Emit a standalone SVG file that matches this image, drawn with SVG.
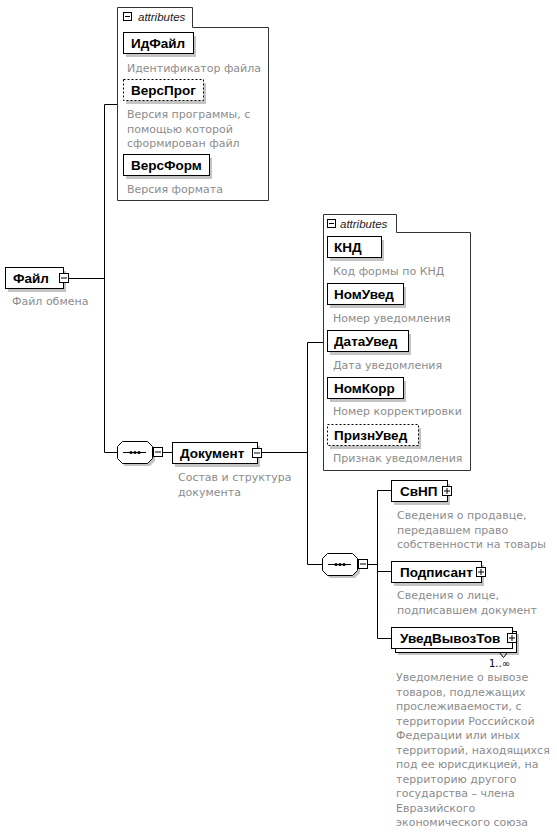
<svg xmlns="http://www.w3.org/2000/svg" width="557" height="835" viewBox="0 0 557 835">
<defs>
<style>
.bg{fill:#fff}
.box{fill:#fff;stroke:#000;stroke-width:1}
.dbox{fill:#fff;stroke:#000;stroke-width:1;stroke-dasharray:2,2}
.sh{fill:#c4c4c4}
.cont{fill:#fff;stroke:#333;stroke-width:1}
.name{font-family:"Liberation Sans",Arial,sans-serif;font-weight:bold;font-size:13.5px;fill:#000}
.desc{font-family:"DejaVu Sans","Liberation Sans",sans-serif;font-size:11px;fill:#8c8c8c}
.attr{font-family:"Liberation Sans",Arial,sans-serif;font-style:italic;font-size:11.5px;fill:#222}
.mult{font-family:"DejaVu Sans","Liberation Sans",sans-serif;font-size:10px;fill:#000}
.ln{fill:none;stroke:#000;stroke-width:1}
.pm{fill:#fff;stroke:#000;stroke-width:1}
</style>
</defs>
<rect class="bg" x="0" y="0" width="557" height="835"/>

<g id="connectors">
<path class="ln" d="M68.5,278.5 H104.5 M104.5,104.5 V452.5 M104.5,104.5 H117 M104.5,452.5 H117 M162,452.5 H172 M261,452.5 H307.5 M307.5,342.5 V564.5 M307.5,342.5 H323 M307.5,564.5 H322 M367,564.5 H377.5 M377.5,490.5 V638.5 M377.5,490.5 H391 M377.5,571.5 H391 M377.5,638.5 H391"/>
</g>

<g id="attributes1">
<path class="cont" d="M117.5,7.5 H192.5 V27.5 H268.5 V200.5 H117.5 Z"/>
<rect class="pm" x="123.5" y="12.5" width="8" height="8"/>
<path class="ln" d="M125,16.5 H130"/>
<text class="attr" x="138" y="20.5">attributes</text>
</g>

<g id="ИдФайл">
<rect class="sh" x="126" y="36" width="70" height="21"/>
<rect class="box" x="123.5" y="32.5" width="70" height="21"/>
<text class="name" x="131" y="47.5">ИдФайл</text>
<text class="desc" x="127" y="72">Идентификатор файла</text>
</g>

<g id="ВерсПрог">
<rect class="sh" x="126" y="83" width="80" height="21"/>
<rect class="dbox" x="123.5" y="79.5" width="80" height="21"/>
<text class="name" x="131" y="94.5">ВерсПрог</text>
<text class="desc" x="127" y="118">Версия программы, с</text>
<text class="desc" x="127" y="132.5">помощью которой</text>
<text class="desc" x="127" y="147">сформирован файл</text>
</g>

<g id="ВерсФорм">
<rect class="sh" x="126" y="158" width="86" height="21"/>
<rect class="box" x="123.5" y="154.5" width="86" height="21"/>
<text class="name" x="131" y="169.5">ВерсФорм</text>
<text class="desc" x="127" y="193">Версия формата</text>
</g>

<g id="Файл">
<rect class="sh" x="8" y="271" width="58" height="21"/>
<rect class="box" x="5.5" y="267.5" width="58" height="21"/>
<text class="name" x="13" y="282.5">Файл</text>
<rect class="pm" x="59.5" y="273.5" width="9" height="9"/>
<path class="ln" d="M61,278 H67"/>
<text class="desc" x="12" y="305">Файл обмена</text>
</g>

<g id="seq1">
<path fill="#c4c4c4" d="M125,444 H150 L155,449 V461 L150,466 H125 L120,461 V449 Z"/>
<path class="box" d="M122.5,441.5 H147.5 L152.5,446.5 V458.5 L147.5,463.5 H122.5 L117.5,458.5 V446.5 Z"/>
<path class="ln" d="M123,452.5 H146"/>
<circle cx="131" cy="452.5" r="1.6" fill="#000"/>
<circle cx="135" cy="452.5" r="1.6" fill="#000"/>
<circle cx="139" cy="452.5" r="1.6" fill="#000"/>
<rect class="pm" x="153.5" y="447.5" width="9" height="9"/>
<path class="ln" d="M155,452 H161"/>
</g>

<g id="Документ">
<rect class="sh" x="175" y="446" width="85" height="21"/>
<rect class="box" x="172.5" y="442.5" width="85" height="21"/>
<text class="name" x="180" y="457.5">Документ</text>
<rect class="pm" x="252.5" y="448.5" width="9" height="9"/>
<path class="ln" d="M254,453 H260"/>
<text class="desc" x="178" y="481">Состав и структура</text>
<text class="desc" x="178" y="495.5">документа</text>
</g>

<g id="attributes2">
<path class="cont" d="M323.5,214.5 H396.5 V232.5 H470.5 V470.5 H323.5 Z"/>
<rect class="pm" x="327.5" y="219.5" width="8" height="8"/>
<path class="ln" d="M329,223.5 H334"/>
<text class="attr" x="340" y="227.5">attributes</text>
</g>

<g id="КНД">
<rect class="sh" x="330" y="240" width="54" height="21"/>
<rect class="box" x="327.5" y="236.5" width="54" height="21"/>
<text class="name" x="334" y="251.5">КНД</text>
<text class="desc" x="333" y="275">Код формы по КНД</text>
</g>

<g id="НомУвед">
<rect class="sh" x="330" y="287" width="76" height="21"/>
<rect class="box" x="327.5" y="283.5" width="76" height="21"/>
<text class="name" x="334" y="298.5">НомУвед</text>
<text class="desc" x="333" y="322">Номер уведомления</text>
</g>

<g id="ДатаУвед">
<rect class="sh" x="330" y="334" width="81" height="21"/>
<rect class="box" x="327.5" y="330.5" width="81" height="21"/>
<text class="name" x="334" y="345.5">ДатаУвед</text>
<text class="desc" x="333" y="369">Дата уведомления</text>
</g>

<g id="НомКорр">
<rect class="sh" x="330" y="381" width="76" height="21"/>
<rect class="box" x="327.5" y="377.5" width="76" height="21"/>
<text class="name" x="334" y="392.5">НомКорр</text>
<text class="desc" x="333" y="415">Номер корректировки</text>
</g>

<g id="ПризнУвед">
<rect class="sh" x="330" y="428" width="91" height="21"/>
<rect class="dbox" x="327.5" y="424.5" width="91" height="21"/>
<text class="name" x="334" y="439.5">ПризнУвед</text>
<text class="desc" x="333" y="462">Признак уведомления</text>
</g>

<g id="seq2">
<path fill="#c4c4c4" d="M330,556 H355 L360,561 V573 L355,578 H330 L325,573 V561 Z"/>
<path class="box" d="M327.5,553.5 H352.5 L357.5,558.5 V570.5 L352.5,575.5 H327.5 L322.5,570.5 V558.5 Z"/>
<path class="ln" d="M328,564.5 H351"/>
<circle cx="336" cy="564.5" r="1.6" fill="#000"/>
<circle cx="340" cy="564.5" r="1.6" fill="#000"/>
<circle cx="344" cy="564.5" r="1.6" fill="#000"/>
<rect class="pm" x="358.5" y="559.5" width="9" height="9"/>
<path class="ln" d="M360,564 H366"/>
</g>

<g id="СвНП">
<rect class="sh" x="394" y="484" width="56" height="21"/>
<rect class="box" x="391.5" y="480.5" width="56" height="21"/>
<text class="name" x="400" y="495.5">СвНП</text>
<rect class="pm" x="442.5" y="486.5" width="9" height="9"/>
<path class="ln" d="M444,491 H450 M447,488 V494"/>
<text class="desc" x="397" y="519">Сведения о продавце,</text>
<text class="desc" x="397" y="533.5">передавшем право</text>
<text class="desc" x="397" y="548">собственности на товары</text>
</g>

<g id="Подписант">
<rect class="sh" x="394" y="565" width="90" height="21"/>
<rect class="box" x="391.5" y="561.5" width="90" height="21"/>
<text class="name" x="400" y="576.5">Подписант</text>
<rect class="pm" x="476.5" y="567.5" width="9" height="9"/>
<path class="ln" d="M478,572 H484 M481,569 V575"/>
<text class="desc" x="397" y="599">Сведения о лице,</text>
<text class="desc" x="397" y="613.5">подписавшем документ</text>
</g>

<g id="УведВывозТов">
<rect class="sh" x="398" y="634" width="121" height="21"/>
<rect class="box" x="395.5" y="631.5" width="121" height="21"/>
<rect class="box" x="391.5" y="627.5" width="121" height="21"/>
<text class="name" x="400" y="642.5">УведВывозТов</text>
<rect class="pm" x="507.5" y="633.5" width="9" height="9"/>
<path class="ln" d="M509,638 H515 M512,635 V641"/>
<path class="ln" d="M499.5,652.5 L503.5,657.5 L507.5,652.5"/>
<text class="mult" x="489" y="667">1..∞</text>
<text class="desc" x="396" y="681">Уведомление о вывозе</text>
<text class="desc" x="396" y="695.5">товаров, подлежащих</text>
<text class="desc" x="396" y="710">прослеживаемости, с</text>
<text class="desc" x="396" y="724.5">территории Российской</text>
<text class="desc" x="396" y="739">Федерации или иных</text>
<text class="desc" x="396" y="753.5">территорий, находящихся</text>
<text class="desc" x="396" y="768">под ее юрисдикцией, на</text>
<text class="desc" x="396" y="782.5">территорию другого</text>
<text class="desc" x="396" y="797">государства – члена</text>
<text class="desc" x="396" y="811.5">Евразийского</text>
<text class="desc" x="396" y="826">экономического союза</text>
</g>
</svg>
